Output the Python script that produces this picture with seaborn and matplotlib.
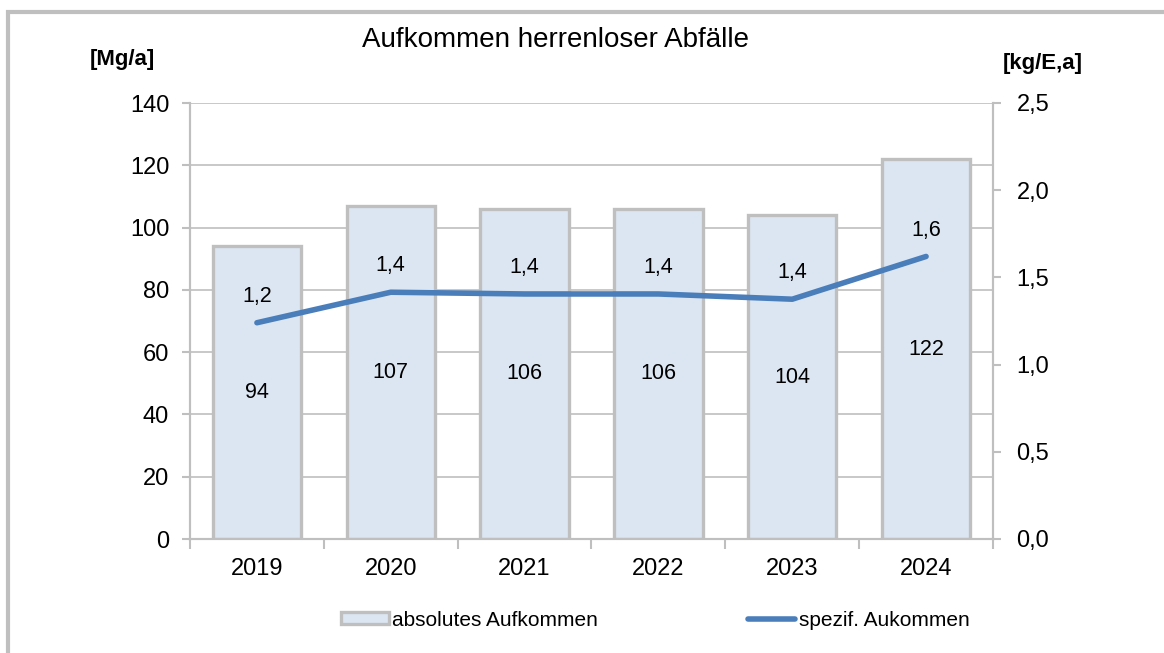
import numpy as np
import pandas as pd
import matplotlib
matplotlib.use('Agg')
import matplotlib.pyplot as plt
from matplotlib.patches import Rectangle, Patch
from matplotlib.lines import Line2D
from matplotlib.ticker import FuncFormatter, MultipleLocator
import seaborn as sns

years = ['2019', '2020', '2021', '2022', '2023', '2024']
absolut = [94, 107, 106, 106, 104, 122]          # Mg/a
spezif = [1.24, 1.415, 1.405, 1.405, 1.375, 1.62]  # kg/E,a
spezif_labels = ['1,2', '1,4', '1,4', '1,4', '1,4', '1,6']

bar_fill = '#dce6f2'
bar_edge = '#bfbfbf'
line_col = '#4a7ebb'
grid_col = '#bfbfbf'

sns.set_style('white')
plt.rcParams['font.family'] = ['Liberation Sans', 'DejaVu Sans']
plt.rcParams['text.color'] = 'black'
plt.rcParams['xtick.labelcolor'] = 'black'
plt.rcParams['ytick.labelcolor'] = 'black'

df = pd.DataFrame({'Jahr': years, 'absolut': absolut, 'spezif': spezif})

fig = plt.figure(figsize=(11.64, 6.53), dpi=100)
ax = fig.add_axes([190 / 1164, 1 - 539 / 653, 803 / 1164, 436 / 653])

sns.barplot(data=df, x='Jahr', y='absolut', ax=ax, color=bar_fill,
            edgecolor=bar_edge, linewidth=2.4, width=0.66, saturation=1, zorder=2)
ax.set_ylim(0, 140)
ax.set_xlim(-0.5, len(years) - 0.5)
ax.yaxis.set_major_locator(MultipleLocator(20))
ax.set_xlabel('')
ax.set_ylabel('')
ax.grid(axis='y', color=grid_col, linewidth=1.2, zorder=0)
ax.set_axisbelow(True)

# bar value labels in the middle of each bar
for i, v in enumerate(absolut):
    ax.text(i, v / 2, str(v), ha='center', va='center', fontsize=15.5,
            color='black', zorder=5)

ax2 = ax.twinx()
sns.lineplot(data=df, x='Jahr', y='spezif', ax=ax2, color=line_col,
             linewidth=4, sort=False, zorder=4)
ax2.set_ylim(0, 2.5)
ax2.yaxis.set_major_locator(MultipleLocator(0.5))
ax2.yaxis.set_major_formatter(FuncFormatter(lambda v, p: f'{v:.1f}'.replace('.', ',')))
ax2.set_ylabel('')
ax2.set_xlabel('')
for i, (v, lab) in enumerate(zip(spezif, spezif_labels)):
    ax2.annotate(lab, (i, v), xytext=(0, 19), textcoords='offset points',
                 ha='center', va='center', fontsize=15.5, color='black')

# spines and ticks
for a in (ax, ax2):
    for s in a.spines.values():
        s.set_color(grid_col)
        s.set_linewidth(1.5)
    a.spines['top'].set_visible(False)

ax.tick_params(axis='y', which='major', direction='out', length=6, width=1.5,
               color=grid_col, labelcolor='black', labelsize=17, pad=9, left=True)
ax2.tick_params(axis='y', which='major', direction='out', length=6, width=1.5,
                color=grid_col, labelcolor='black', labelsize=17, pad=11, right=True)
ax.set_xticks(range(len(years)))
ax.set_xticklabels(years)
ax.tick_params(axis='x', which='major', length=0, labelsize=17,
               labelcolor='black', pad=14)
ax.set_xticks(np.arange(-0.5, len(years)), minor=True)
ax.tick_params(axis='x', which='minor', direction='out', length=7, width=1.5,
               color=grid_col, bottom=True)

# titles and units
fig.text(556 / 1164, 1 - 40 / 653, 'Aufkommen herrenloser Abfälle',
         ha='center', va='center', fontsize=20, color='black')
fig.text(122 / 1164, 1 - 60 / 653, '[Mg/a]', ha='center', va='center',
         fontsize=16, fontweight='bold', color='black')
fig.text(1043 / 1164, 1 - 64 / 653, '[kg/E,a]', ha='center', va='center',
         fontsize=16, fontweight='bold', color='black')

# legend
handles = [Patch(facecolor=bar_fill, edgecolor=bar_edge, linewidth=2.4),
           Line2D([0], [0], color=line_col, linewidth=4, solid_capstyle='round')]
fig.legend(handles, ['absolutes Aufkommen', 'spezif. Aukommen'],
           loc='center', bbox_to_anchor=(655 / 1164, 1 - 620 / 653), ncol=2,
           frameon=False, fontsize=15, handlelength=2.3, handleheight=0.55,
           handletextpad=0.15, columnspacing=7.2)

# outer frame
fig.patches.append(Rectangle((8 / 1164, -0.1), 1.2, (653 - 12) / 653 + 0.1,
                             transform=fig.transFigure, fill=False,
                             edgecolor=grid_col, linewidth=3))

fig.savefig('out.png', dpi=100)
